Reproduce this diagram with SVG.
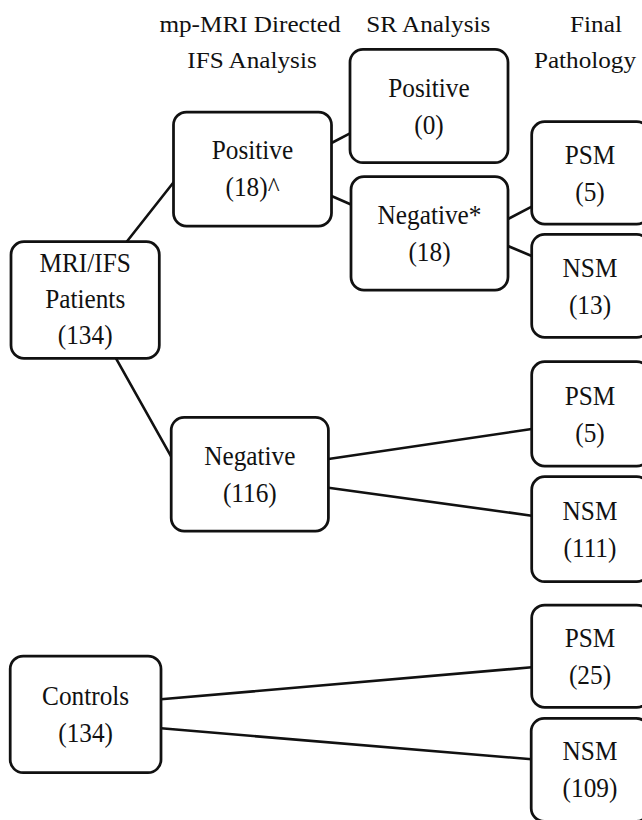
<svg xmlns="http://www.w3.org/2000/svg" width="642" height="820" viewBox="0 0 642 820">
<style>
  .box { fill: #fff; stroke: #111; stroke-width: 2.75; }
  .conn line { stroke: #111; stroke-width: 2.6; stroke-linecap: round; }
  .t { font-family: 'Liberation Serif', serif; font-size: 27.5px; fill: #111; text-anchor: middle; transform-box: fill-box; transform-origin: center; transform: scaleX(0.92); }
  .h { font-family: 'Liberation Serif', serif; font-size: 24px; fill: #111; text-anchor: middle; transform-box: fill-box; transform-origin: center; transform: scaleX(1.05); }
</style>
<rect width="642" height="820" fill="#fff"/>
<g id="headers">
  <text class="h" x="250" y="31.7">mp-MRI Directed</text>
  <text class="h" x="252" y="68.3">IFS Analysis</text>
  <text class="h" x="428.3" y="31.7">SR Analysis</text>
  <text class="h" x="596" y="31.7">Final</text>
  <text class="h" x="585" y="68.3">Pathology</text>
</g>
<g id="connectors" class="conn">
  <line x1="126.7" y1="241.7" x2="174" y2="181.7"/>
  <line x1="116" y1="358.3" x2="171.2" y2="456.7"/>
  <line x1="331.5" y1="143" x2="350" y2="133.3"/>
  <line x1="331.5" y1="196" x2="351" y2="204.5"/>
  <line x1="508" y1="219" x2="531.7" y2="206.7"/>
  <line x1="508" y1="246" x2="531.7" y2="256"/>
  <line x1="328.4" y1="459" x2="531.7" y2="429"/>
  <line x1="328.4" y1="487.7" x2="531.7" y2="515.7"/>
  <line x1="161" y1="699.3" x2="531.7" y2="667.3"/>
  <line x1="161" y1="728.3" x2="531.7" y2="759.3"/>
</g>
<g id="mri-ifs-patients">
  <rect class="box" x="11" y="241.7" width="148.3" height="116.6" rx="13"/>
  <text class="t" x="85.2" y="271.7">MRI/IFS</text>
  <text class="t" x="85.2" y="308.3">Patients</text>
  <text class="t" x="85.2" y="344.3">(134)</text>
</g>
<g id="ifs-positive">
  <rect class="box" x="173.5" y="112" width="158" height="114" rx="13"/>
  <text class="t" x="252.5" y="159.3">Positive</text>
  <text class="t" x="252.5" y="196">(18)^</text>
</g>
<g id="ifs-negative">
  <rect class="box" x="171.2" y="417.3" width="157.2" height="113.7" rx="13"/>
  <text class="t" x="249.8" y="465">Negative</text>
  <text class="t" x="249.8" y="502">(116)</text>
</g>
<g id="sr-positive">
  <rect class="box" x="350" y="49.3" width="158" height="113.4" rx="13"/>
  <text class="t" x="429" y="96.8">Positive</text>
  <text class="t" x="429" y="133.8">(0)</text>
</g>
<g id="sr-negative">
  <rect class="box" x="351" y="176.7" width="157" height="113.3" rx="13"/>
  <text class="t" x="429.5" y="224">Negative*</text>
  <text class="t" x="429.5" y="261">(18)</text>
</g>
<g id="controls">
  <rect class="box" x="10.2" y="656" width="150.8" height="116.7" rx="13"/>
  <text class="t" x="85.6" y="705">Controls</text>
  <text class="t" x="85.6" y="742">(134)</text>
</g>
<g id="psm-5a">
  <rect class="box" x="531.7" y="121.7" width="118" height="102.3" rx="13"/>
  <text class="t" x="590" y="163.7">PSM</text>
  <text class="t" x="590" y="200.7">(5)</text>
</g>
<g id="nsm-13">
  <rect class="box" x="531.7" y="234.3" width="118" height="103" rx="13"/>
  <text class="t" x="590" y="276.6">NSM</text>
  <text class="t" x="590" y="313.6">(13)</text>
</g>
<g id="psm-5b">
  <rect class="box" x="531.7" y="361.7" width="118" height="104.3" rx="13"/>
  <text class="t" x="590" y="404.7">PSM</text>
  <text class="t" x="590" y="441.7">(5)</text>
</g>
<g id="nsm-111">
  <rect class="box" x="531.7" y="476.7" width="118" height="105" rx="13"/>
  <text class="t" x="590" y="520">NSM</text>
  <text class="t" x="590" y="557">(111)</text>
</g>
<g id="psm-25">
  <rect class="box" x="531.7" y="605" width="118" height="102.3" rx="13"/>
  <text class="t" x="590" y="647">PSM</text>
  <text class="t" x="590" y="684">(25)</text>
</g>
<g id="nsm-109">
  <rect class="box" x="531.2" y="718.3" width="118" height="103" rx="13"/>
  <text class="t" x="590" y="759.6">NSM</text>
  <text class="t" x="590" y="797">(109)</text>
</g>
</svg>
